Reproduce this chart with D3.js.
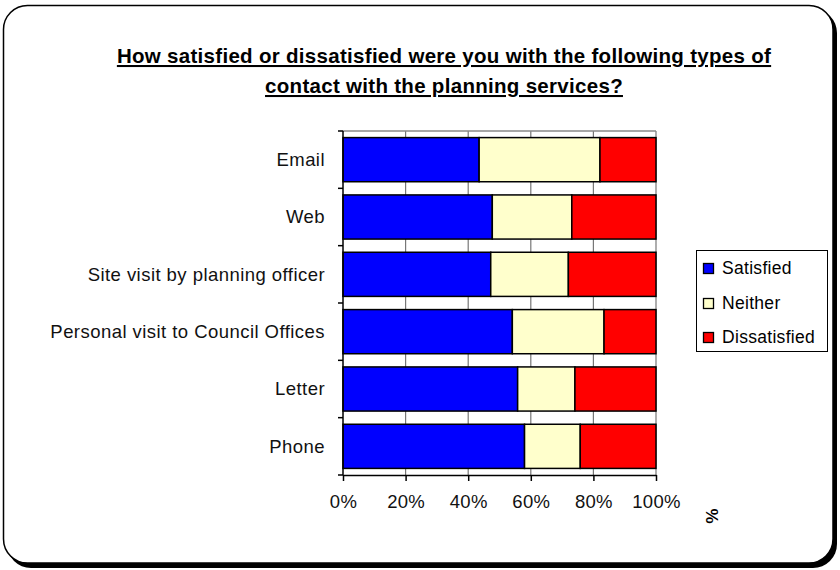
<!DOCTYPE html>
<html>
<head>
<meta charset="utf-8">
<script src="https://cdn.jsdelivr.net/npm/d3@7"></script>
<style>
  html, body { margin: 0; padding: 0; background: #fff; }
  svg { display: block; font-family: "Liberation Sans", Arial, sans-serif; }
</style>
</head>
<body>
<svg id="chart" width="840" height="570"></svg>
<script>
// Survey categories, top to bottom
const categories = [
  "Email",
  "Web",
  "Site visit by planning officer",
  "Personal visit to Council Offices",
  "Letter",
  "Phone"
];
// Share of respondents (%) per category
const satisfied    = [43.5, 47.7, 47.2, 54.1, 55.8, 58.0];
const neither      = [38.6, 25.4, 24.8, 29.3, 18.3, 17.8];
const dissatisfied = [17.9, 26.9, 28.0, 16.6, 25.9, 24.2];
const seriesNames  = ["Satisfied", "Neither", "Dissatisfied"];
const tickValues   = [0, 20, 40, 60, 80, 100];
const titleLines   = [
  "How satisfied or dissatisfied were you with the following types of",
  "contact with the planning services?"
];

const colors = { Satisfied: "#0000ff", Neither: "#ffffcc", Dissatisfied: "#ff0000" };

const svg = d3.select("#chart");

// Rounded frame with a drop shadow on the right and bottom
svg.append("rect").attr("x", 7).attr("y", 9).attr("width", 830).attr("height", 559)
  .attr("rx", 24).attr("fill", "#000");
svg.append("rect").attr("x", 3.5).attr("y", 5.5).attr("width", 829.5).attr("height", 557.5)
  .attr("rx", 24).attr("fill", "#fff").attr("stroke", "#000").attr("stroke-width", 1.5);

// Title
svg.append("g").selectAll("text").data(titleLines).join("text")
  .attr("x", 444).attr("y", (d, i) => 63 + i * 30)
  .attr("text-anchor", "middle")
  .style("font-size", "20.5px").style("font-weight", "bold")
  .style("letter-spacing", "0.3px")
  .style("text-decoration", "underline")
  .text(d => d);

// Plot area
const plot = { left: 343, right: 656, top: 131, bottom: 475 };

const x = d3.scaleLinear().domain([0, 100]).range([plot.left, plot.right]);
const y = d3.scaleBand().domain(categories).range([plot.top, plot.bottom])
  .paddingInner(0.23).paddingOuter(0.115);

// Vertical gridlines behind the bars
svg.append("g").selectAll("line").data(tickValues.slice(1)).join("line")
  .attr("x1", d => x(d)).attr("x2", d => x(d))
  .attr("y1", plot.top).attr("y2", plot.bottom)
  .attr("stroke", "#777").attr("stroke-width", 1.2);
svg.append("line")
  .attr("x1", plot.left).attr("x2", plot.right)
  .attr("y1", plot.top).attr("y2", plot.top)
  .attr("stroke", "#888").attr("stroke-width", 1.5);

// Stacked bars
const rows = categories.map((c, i) => ({
  category: c, Satisfied: satisfied[i], Neither: neither[i], Dissatisfied: dissatisfied[i]
}));
const stacked = d3.stack().keys(seriesNames)(rows);

svg.append("g").selectAll("g").data(stacked).join("g")
  .attr("fill", d => colors[d.key])
  .selectAll("rect").data(d => d).join("rect")
  .attr("x", d => x(d[0]))
  .attr("y", d => y(d.data.category))
  .attr("width", d => x(d[1]) - x(d[0]))
  .attr("height", y.bandwidth())
  .attr("stroke", "#000").attr("stroke-width", 1.5);

// Category axis
const yAxis = svg.append("g").attr("transform", `translate(${plot.left},0)`);
yAxis.append("line").attr("x1", 0).attr("x2", 0)
  .attr("y1", plot.top).attr("y2", plot.bottom)
  .attr("stroke", "#000").attr("stroke-width", 1.5);
const bandEdges = d3.range(categories.length + 1)
  .map(i => plot.top + i * (plot.bottom - plot.top) / categories.length);
yAxis.selectAll(".tk").data(bandEdges).join("line").attr("class", "tk")
  .attr("x1", -5).attr("x2", 0).attr("y1", d => d).attr("y2", d => d)
  .attr("stroke", "#000").attr("stroke-width", 1.5);
yAxis.selectAll("text").data(categories).join("text")
  .attr("x", -18).attr("y", d => y(d) + y.bandwidth() / 2)
  .attr("dy", "0.35em").attr("text-anchor", "end")
  .style("font-size", "18.5px").style("letter-spacing", "0.45px")
  .attr("fill", "#111")
  .text(d => d);

// Value axis
const xAxis = svg.append("g").attr("transform", `translate(0,${plot.bottom})`)
  .call(d3.axisBottom(x).tickValues(tickValues).tickFormat(d => d + "%")
    .tickSizeInner(6).tickSizeOuter(0).tickPadding(14));
xAxis.select(".domain").attr("stroke", "#000").attr("stroke-width", 1.5);
xAxis.selectAll(".tick line").attr("stroke", "#000").attr("stroke-width", 1.5);
xAxis.selectAll(".tick text")
  .style("font-size", "18.5px").style("font-family", "\"Liberation Sans\", Arial, sans-serif")
  .style("letter-spacing", "0.3px")
  .attr("fill", "#111");

// Axis unit label
svg.append("text")
  .attr("transform", "translate(712,516) rotate(90)")
  .attr("text-anchor", "middle").attr("dy", "0.35em")
  .style("font-size", "17px").style("font-weight", "bold")
  .text("%");

// Legend
const legend = svg.append("g");
legend.append("rect").attr("x", 696.5).attr("y", 250.5).attr("width", 131).attr("height", 101)
  .attr("fill", "#fff").attr("stroke", "#000").attr("stroke-width", 1);
const legendY = [268, 303, 337];
const items = legend.selectAll("g").data(seriesNames).join("g")
  .attr("transform", (d, i) => `translate(703,${legendY[i]})`);
items.append("rect").attr("x", 0.5).attr("y", -4.5).attr("width", 10).attr("height", 10)
  .attr("fill", d => colors[d]).attr("stroke", "#000").attr("stroke-width", 1.3);
items.append("text").attr("x", 19).attr("dy", "0.35em")
  .style("font-size", "17.5px").style("letter-spacing", "0.3px")
  .text(d => d);
</script>
</body>
</html>
